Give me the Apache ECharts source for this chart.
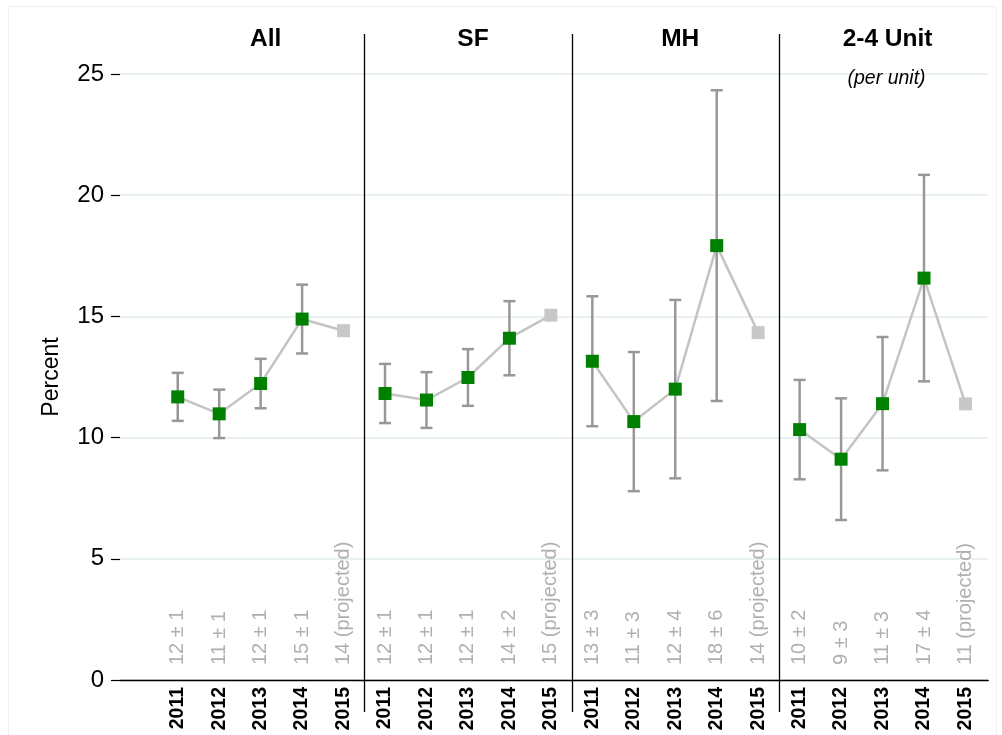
<!DOCTYPE html>
<html>
<head>
<meta charset="utf-8">
<style>
  html, body { margin: 0; padding: 0; background: #ffffff; }
  #chart { width: 1002px; height: 735px; }
</style>
<script src="https://cdn.jsdelivr.net/npm/echarts@6/dist/echarts.min.js"></script>
</head>
<body>
<div id="chart"></div>
<script>
// Share of loans by year, four segments, with 95% margins; 2015 is a projection.
const years = ['2011', '2012', '2013', '2014', '2015'];
const panelNames = ['All', 'SF', 'MH', '2-4 Unit'];
const panelNotes = ['', '', '', '(per unit)'];
const yTicks = [0, 5, 10, 15, 20, 25];

const allMean = [11.68, 10.98, 12.23, 14.89, 14.41];
const allMargin = [0.99, 1.00, 1.02, 1.42, null];
const sfMean = [11.82, 11.55, 12.48, 14.10, 15.05];
const sfMargin = [1.22, 1.15, 1.17, 1.53, null];
const mhMean = [13.15, 10.66, 12.00, 17.92, 14.33];
const mhMargin = [2.68, 2.87, 3.68, 6.41, null];
const unitMean = [10.33, 9.11, 11.40, 16.58, 11.39];
const unitMargin = [2.05, 2.51, 2.75, 4.26, null];

const panelMeans = [allMean, sfMean, mhMean, unitMean];
const panelMargins = [allMargin, sfMargin, mhMargin, unitMargin];

// Layout
const FONT = 'Liberation Sans, Arial, Helvetica, sans-serif';
const plotTop = 74;
const plotHeight = 606;
const axisLeft = 120;
const panelStart = 157;
const panelWidth = 207.3;
const yMin = yTicks[0], yMax = yTicks[yTicks.length - 1];

const GREEN = '#008000';
const PROJ = '#c8c8c8';
const LINE = '#c4c4c4';
const BAR = '#989898';
const LABEL = '#b0b0b0';

const grids = [{ left: axisLeft, width: panelStart + 4 * panelWidth - axisLeft + 2, top: plotTop, height: plotHeight }];
const xAxes = [{
  gridIndex: 0, type: 'value', min: 0, max: 1, position: 'bottom',
  axisLine: { show: true, onZero: false, lineStyle: { color: '#000', width: 1.3 } },
  axisTick: { show: false }, axisLabel: { show: false }, splitLine: { show: false }
}];
const yAxes = [{
  gridIndex: 0, type: 'value', min: yMin, max: yMax, interval: 5,
  name: 'Percent', nameLocation: 'middle', nameRotate: 90, nameGap: 57,
  nameTextStyle: { fontFamily: FONT, fontSize: 23, color: '#000' },
  axisLine: { show: false },
  axisTick: { show: true, length: 9, lineStyle: { color: '#000', width: 1.2 } },
  axisLabel: { fontFamily: FONT, fontSize: 24, color: '#000', margin: 16 },
  splitLine: { show: true, lineStyle: { color: '#e8f0f1', width: 2 } }
}];
const series = [];
const titles = [];
const graphics = [];

panelNames.forEach((name, p) => {
  const gi = p + 1;
  const left = panelStart + p * panelWidth;
  grids.push({ left: left, width: panelWidth, top: plotTop, height: plotHeight });
  xAxes.push({
    gridIndex: gi, type: 'category', data: years, boundaryGap: true,
    axisLine: { show: false }, axisTick: { show: false }, splitLine: { show: false },
    axisLabel: { rotate: 90, margin: 7, fontFamily: FONT, fontSize: 19.5, fontWeight: 'bold', color: '#000' }
  });
  yAxes.push({
    gridIndex: gi, type: 'value', min: yMin, max: yMax, interval: 5, show: false,
    splitLine: { show: false }
  });

  const mean = panelMeans[p];
  const margin = panelMargins[p];
  const last = years.length - 1;

  // connecting line
  series.push({
    type: 'line', xAxisIndex: gi, yAxisIndex: gi, data: mean,
    showSymbol: false, silent: true, z: 2,
    lineStyle: { color: LINE, width: 2.5 }
  });

  // error bars
  series.push({
    type: 'custom', xAxisIndex: gi, yAxisIndex: gi, z: 3, silent: true,
    data: mean.map((m, i) => [i, m, margin[i] == null ? NaN : margin[i]]),
    renderItem: function (params, api) {
      const i = api.value(0), m = api.value(1), e = api.value(2);
      if (isNaN(e)) return null;
      const hi = api.coord([i, m + e]);
      const lo = api.coord([i, m - e]);
      const cap = 6;
      const st = { stroke: BAR, lineWidth: 2.5 };
      return {
        type: 'group', children: [
          { type: 'line', shape: { x1: hi[0], y1: hi[1], x2: lo[0], y2: lo[1] }, style: st },
          { type: 'line', shape: { x1: hi[0] - cap, y1: hi[1], x2: hi[0] + cap, y2: hi[1] }, style: st },
          { type: 'line', shape: { x1: lo[0] - cap, y1: lo[1], x2: lo[0] + cap, y2: lo[1] }, style: st }
        ]
      };
    }
  });

  // point markers
  series.push({
    type: 'scatter', xAxisIndex: gi, yAxisIndex: gi, z: 4, silent: true,
    symbol: 'rect', symbolSize: 13,
    data: mean.map((m, i) => ({ value: [i, m], itemStyle: { color: i === last ? PROJ : GREEN, opacity: 1 } }))
  });

  // value labels along the bottom
  const texts = mean.map((m, i) => margin[i] == null
    ? Math.round(m) + ' (projected)'
    : Math.round(m) + ' \u00b1 ' + Math.round(margin[i]));
  series.push({
    type: 'custom', xAxisIndex: gi, yAxisIndex: gi, z: 5, silent: true,
    data: mean.map((m, i) => [i, 0]),
    renderItem: function (params, api) {
      const pt = api.coord([api.value(0), 0]);
      return {
        type: 'text', x: pt[0], y: pt[1] - 15, rotation: Math.PI / 2,
        style: {
          text: texts[params.dataIndex], fill: LABEL,
          font: '20px ' + FONT, align: 'left', verticalAlign: 'middle'
        }
      };
    }
  });

  titles.push({
    text: name, left: left + panelWidth / 2, top: 22, textAlign: 'center',
    textStyle: { fontFamily: FONT, fontSize: 24.5, fontWeight: 'bold', color: '#000' }
  });
  if (panelNotes[p]) {
    titles.push({
      text: panelNotes[p], left: left + panelWidth / 2 - 1, top: 64, textAlign: 'center',
      textStyle: { fontFamily: FONT, fontSize: 19.5, fontStyle: 'italic', fontWeight: 'normal', color: '#000' }
    });
  }
  if (p > 0) {
    graphics.push({
      type: 'line', silent: true, z: 10,
      shape: { x1: Math.round(left) + 0.5, y1: 34, x2: Math.round(left) + 0.5, y2: 712 },
      style: { stroke: '#000', lineWidth: 1.3 }
    });
  }
});

graphics.push({
  type: 'rect', silent: true, z: -1,
  shape: { x: 8.5, y: 6.5, width: 988, height: 740 },
  style: { fill: 'none', stroke: '#eef1f2', lineWidth: 1 }
});

const chart = echarts.init(document.getElementById('chart'), null, { renderer: 'canvas' });
chart.setOption({
  backgroundColor: '#ffffff',
  animation: false,
  title: titles,
  grid: grids,
  xAxis: xAxes,
  yAxis: yAxes,
  series: series,
  graphic: graphics
});
</script>
</body>
</html>
